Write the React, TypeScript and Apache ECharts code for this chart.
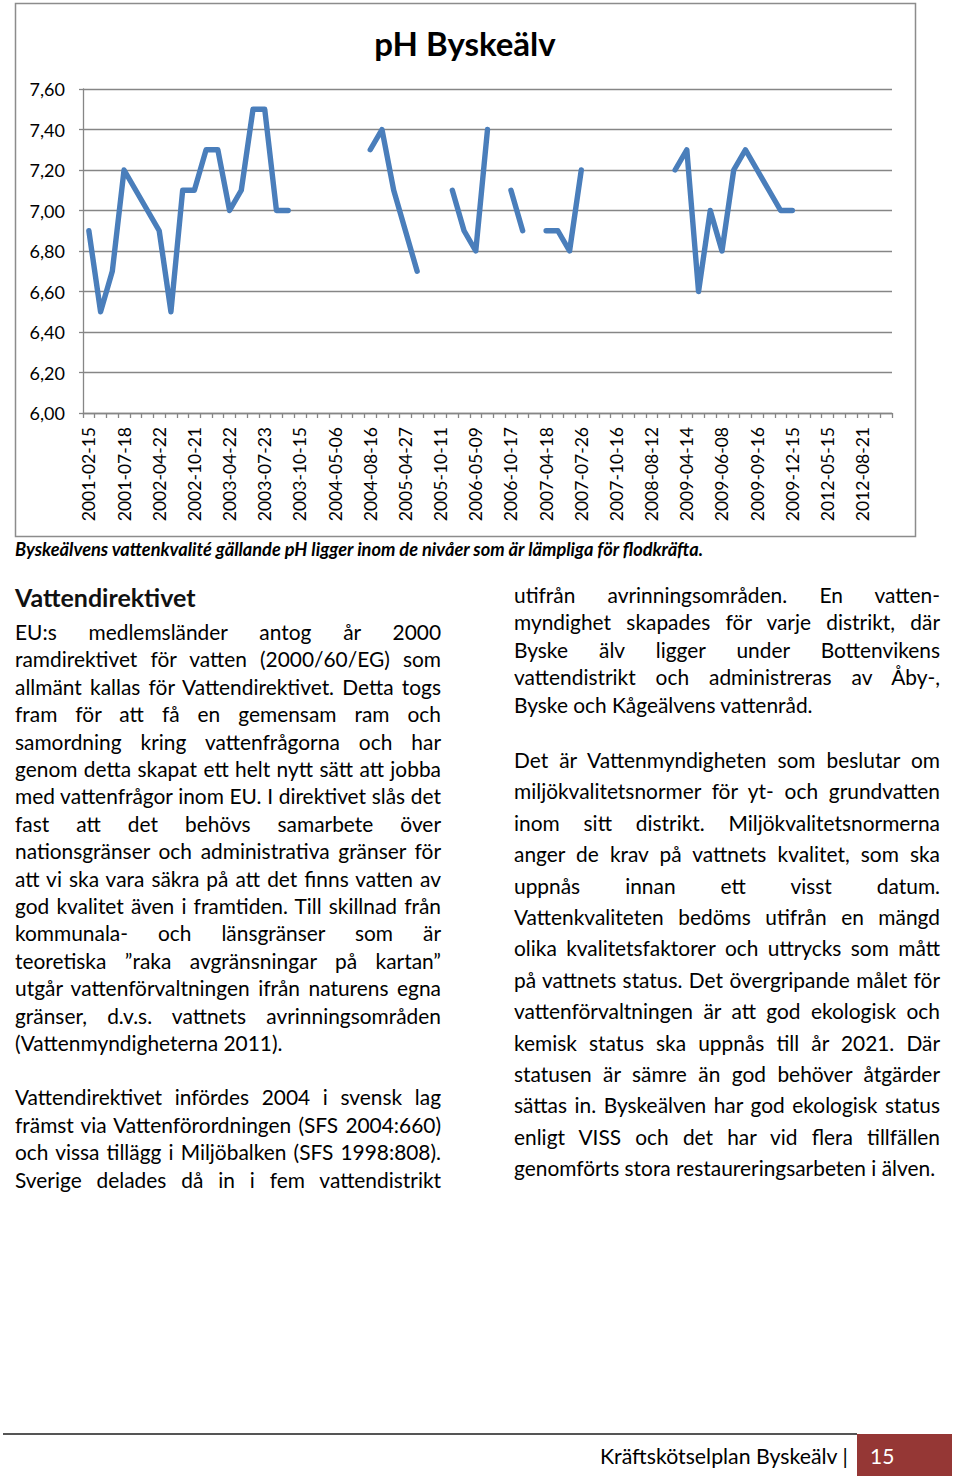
import React, { useEffect, useRef } from "react";
import * as echarts from "echarts";

// Sampling dates (every third one is printed on the axis)
const categories: string[] = [
  "2001-02-15", "2001-04-24", "2001-05-29", "2001-07-18", "2001-08-21", "2001-10-16",
  "2002-04-22", "2002-05-21", "2002-08-13", "2002-10-21", "2003-01-14", "2003-03-18",
  "2003-04-22", "2003-05-13", "2003-06-17", "2003-07-23", "2003-08-12", "2003-09-09",
  "2003-10-15", "2004-01-20", "2004-03-16", "2004-05-06", "2004-06-08", "2004-07-13",
  "2004-08-16", "2004-09-14", "2004-10-12", "2005-04-27", "2005-06-14", "2005-08-16",
  "2005-10-11", "2006-01-17", "2006-03-14", "2006-05-09", "2006-06-13", "2006-08-15",
  "2006-10-17", "2006-12-12", "2007-02-20", "2007-04-18", "2007-05-22", "2007-06-19",
  "2007-07-26", "2007-08-21", "2007-09-18", "2007-10-16", "2008-04-15", "2008-06-10",
  "2008-08-12", "2008-10-14", "2009-02-17", "2009-04-14", "2009-05-05", "2009-05-19",
  "2009-06-08", "2009-07-14", "2009-08-18", "2009-09-16", "2009-10-13", "2009-11-17",
  "2009-12-15", "2010-03-16", "2011-05-17", "2012-05-15", "2012-06-12", "2012-07-17",
  "2012-08-21", "2012-09-18", "2012-10-16",
];

const phValues: (number | null)[] = [
  6.9, 6.5, 6.7, 7.2, 7.1, 7.0,
  6.9, 6.5, 7.1, 7.1, 7.3, 7.3,
  7.0, 7.1, 7.5, 7.5, 7.0, 7.0,
  null, null, null, null, null, null,
  7.3, 7.4, 7.1, 6.9, 6.7, null,
  null, 7.1, 6.9, 6.8, 7.4, null,
  7.1, 6.9, null, 6.9, 6.9, 6.8,
  7.2, null, null, null, null, null,
  null, null, 7.2, 7.3, 6.6, 7.0,
  6.8, 7.2, 7.3, 7.2, 7.1, 7.0,
  7.0, null, null, null, null, null,
  null, null, null,
];

const yMin = 6.0;
const yMax = 7.6;
const yStep = 0.2;

const chartTitle = "pH Byskeälv";
const caption =
  "Byskeälvens vattenkvalité gällande pH ligger inom de nivåer som är lämpliga för flodkräfta.";

type Line = { t: string; y: number; j: boolean };

const leftCol: Line[] = [
  { t: "EU:s medlemsländer antog år 2000", y: 632, j: true },
  { t: "ramdirektivet för vatten (2000/60/EG) som", y: 659.4, j: true },
  { t: "allmänt kallas för Vattendirektivet. Detta togs", y: 686.8, j: true },
  { t: "fram för att få en gemensam ram och", y: 714.2, j: true },
  { t: "samordning kring vattenfrågorna och har", y: 741.6, j: true },
  { t: "genom detta skapat ett helt nytt sätt att jobba", y: 769, j: true },
  { t: "med vattenfrågor inom EU. I direktivet slås det", y: 796.4, j: true },
  { t: "fast att det behövs samarbete över", y: 823.8, j: true },
  { t: "nationsgränser och administrativa gränser för", y: 851.2, j: true },
  { t: "att vi ska vara säkra på att det finns vatten av", y: 878.6, j: true },
  { t: "god kvalitet även i framtiden. Till skillnad från", y: 906, j: true },
  { t: "kommunala- och länsgränser som är", y: 933.4, j: true },
  { t: "teoretiska ”raka avgränsningar på kartan”", y: 960.8, j: true },
  { t: "utgår vattenförvaltningen ifrån naturens egna", y: 988.2, j: true },
  { t: "gränser, d.v.s. vattnets avrinningsområden", y: 1015.6, j: true },
  { t: "(Vattenmyndigheterna 2011).", y: 1043, j: false },
  { t: "Vattendirektivet infördes 2004 i svensk lag", y: 1097, j: true },
  { t: "främst via Vattenförordningen (SFS 2004:660)", y: 1124.5, j: true },
  { t: "och vissa tillägg i Miljöbalken (SFS 1998:808).", y: 1152, j: true },
  { t: "Sverige delades då in i fem vattendistrikt", y: 1179.5, j: true },
];

const rightCol: Line[] = [
  { t: "utifrån avrinningsområden. En vatten-", y: 595, j: true },
  { t: "myndighet skapades för varje distrikt, där", y: 622.4, j: true },
  { t: "Byske älv ligger under Bottenvikens", y: 649.8, j: true },
  { t: "vattendistrikt och administreras av Åby-,", y: 677.2, j: true },
  { t: "Byske och Kågeälvens vattenråd.", y: 704.6, j: false },
  { t: "Det är Vattenmyndigheten som beslutar om", y: 760, j: true },
  { t: "miljökvalitetsnormer för yt- och grundvatten", y: 791.4, j: true },
  { t: "inom sitt distrikt. Miljökvalitetsnormerna", y: 822.8, j: true },
  { t: "anger de krav på vattnets kvalitet, som ska", y: 854.2, j: true },
  { t: "uppnås innan ett visst datum.", y: 885.6, j: true },
  { t: "Vattenkvaliteten bedöms utifrån en mängd", y: 917, j: true },
  { t: "olika kvalitetsfaktorer och uttrycks som mått", y: 948.4, j: true },
  { t: "på vattnets status. Det övergripande målet för", y: 979.8, j: true },
  { t: "vattenförvaltningen är att god ekologisk och", y: 1011.2, j: true },
  { t: "kemisk status ska uppnås till år 2021. Där", y: 1042.6, j: true },
  { t: "statusen är sämre än god behöver åtgärder", y: 1074, j: true },
  { t: "sättas in. Byskeälven har god ekologisk status", y: 1105.4, j: true },
  { t: "enligt VISS och det har vid flera tillfällen", y: 1136.8, j: true },
  { t: "genomförts stora restaureringsarbeten i älven.", y: 1168.2, j: false },
];

const FONT = "Lato, Carlito, 'Open Sans', sans-serif";
const BODY_SIZE = 20.9;

function TextLine({ line, left, width }: { line: Line; left: number; width: number }) {
  const h = 26;
  return (
    <div
      style={{
        position: "absolute",
        left,
        top: line.y - h / 2,
        width,
        height: h,
        lineHeight: h + "px",
        fontSize: BODY_SIZE,
        whiteSpace: "nowrap",
        textAlign: line.j ? "justify" : "left",
        textAlignLast: line.j ? "justify" : "left",
        color: "#000",
      } as React.CSSProperties}
    >
      {line.t}
    </div>
  );
}

export default function App() {
  const ref = useRef<HTMLDivElement>(null);

  useEffect(() => {
    if (!ref.current) return;
    const chart = echarts.init(ref.current, null, { renderer: "svg" });
    const gray = "#868686";
    chart.setOption({
      animation: false,
      backgroundColor: "#ffffff",
      textStyle: { fontFamily: FONT },
      graphic: [
        {
          type: "rect",
          shape: { x: 15.5, y: 3.5, width: 900, height: 533 },
          style: { fill: "none", stroke: "#8c8c8c", lineWidth: 1.5 },
          silent: true,
        },
        {
          type: "text",
          x: 465,
          y: 43,
          style: {
            text: chartTitle,
            fontFamily: FONT,
            fontWeight: "bold",
            fontSize: 33,
            fill: "#000",
            textAlign: "center",
            textVerticalAlign: "middle",
          },
        },
      ],
      grid: { left: 83, right: 68, top: 89, bottom: 132, containLabel: false },
      xAxis: {
        type: "category",
        data: categories,
        boundaryGap: true,
        axisLine: { show: true, lineStyle: { color: gray, width: 1.3 } },
        axisTick: { show: true, interval: 0, length: 5, lineStyle: { color: gray, width: 1.3 } },
        axisLabel: {
          interval: 2,
          rotate: 90,
          fontSize: 17.5,
          color: "#000",
          fontFamily: FONT,
          margin: 14,
        },
        splitLine: { show: false },
      },
      yAxis: {
        type: "value",
        min: yMin,
        max: yMax,
        interval: yStep,
        axisLine: { show: true, lineStyle: { color: gray, width: 1.3 } },
        axisTick: { show: true, length: 4, lineStyle: { color: gray, width: 1.3 } },
        axisLabel: {
          fontSize: 18,
          color: "#000",
          fontFamily: FONT,
          margin: 18,
          formatter: (v: number) => v.toFixed(2).replace(".", ","),
        },
        splitLine: { show: true, lineStyle: { color: gray, width: 1.3 } },
      },
      series: [
        {
          type: "line",
          name: "pH",
          data: phValues,
          connectNulls: false,
          showSymbol: false,
          symbol: "none",
          lineStyle: { color: "#4A7EBB", width: 5.4, cap: "round", join: "round" },
        },
      ],
    });
    return () => chart.dispose();
  }, []);

  return (
    <div
      style={{
        position: "absolute",
        left: 0,
        top: 0,
        width: 960,
        height: 1481,
        background: "#fff",
        fontFamily: FONT,
        overflow: "hidden",
      }}
    >
      <div ref={ref} style={{ position: "absolute", left: 0, top: 0, width: 960, height: 545 }} />
      <div
        style={{
          position: "absolute",
          left: 15,
          top: 538,
          height: 22,
          lineHeight: "22px",
          fontSize: 18.2,
          fontWeight: "bold",
          fontStyle: "italic",
          whiteSpace: "nowrap",
          color: "#000",
        }}
      >
        {caption}
      </div>
      <div
        style={{
          position: "absolute",
          left: 15,
          top: 582,
          height: 30,
          lineHeight: "30px",
          fontSize: 25,
          fontWeight: "bold",
          whiteSpace: "nowrap",
          color: "#111",
        }}
      >
        Vattendirektivet
      </div>
      {leftCol.map((l, i) => (
        <TextLine key={"l" + i} line={l} left={15} width={426} />
      ))}
      {rightCol.map((l, i) => (
        <TextLine key={"r" + i} line={l} left={514} width={426} />
      ))}
      <div style={{ position: "absolute", left: 3, top: 1433, width: 854, height: 1.5, background: "#555" }} />
      <div style={{ position: "absolute", left: 857, top: 1434, width: 95, height: 42, background: "#953735" }} />
      <div
        style={{
          position: "absolute",
          left: 600,
          top: 1443,
          height: 26,
          lineHeight: "26px",
          fontSize: 21.3,
          whiteSpace: "nowrap",
          color: "#000",
        }}
      >
        Kräftskötselplan Byskeälv |
      </div>
      <div
        style={{
          position: "absolute",
          left: 870,
          top: 1443,
          height: 26,
          lineHeight: "26px",
          fontSize: 21,
          whiteSpace: "nowrap",
          color: "#fff",
        }}
      >
        15
      </div>
    </div>
  );
}
